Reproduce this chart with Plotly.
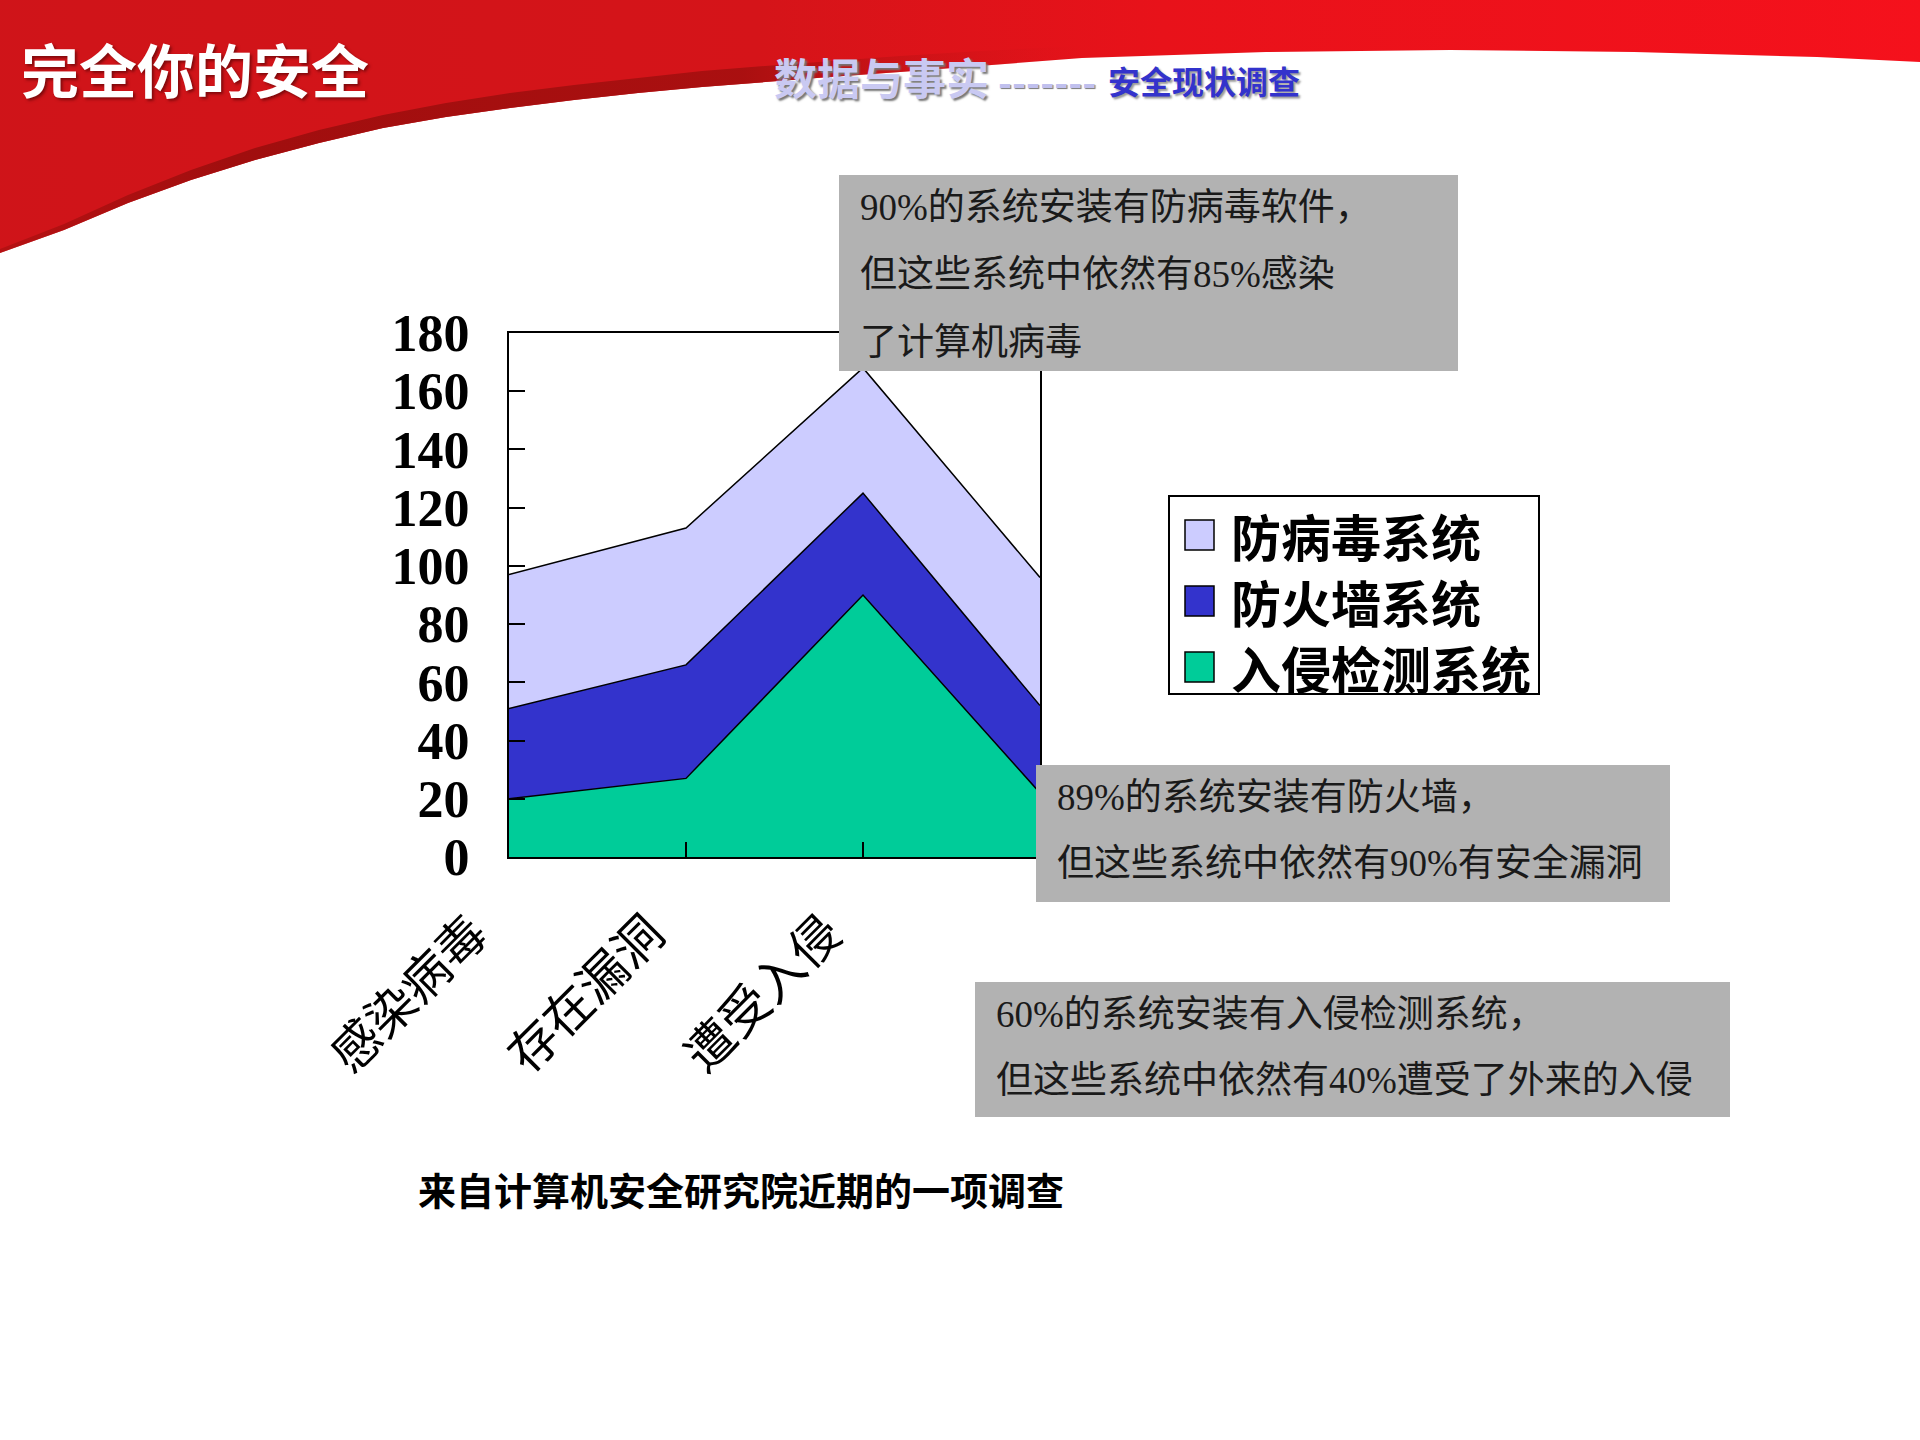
import plotly.graph_objects as go

# 图表数据
categories = ["感染病毒", "存在漏洞", "遭受入侵", ""]
x_pos = [0, 1, 2, 3]
ids_values = [20, 27, 90, 22]        # 入侵检测系统
firewall_values = [31, 39, 35, 30]   # 防火墙系统
antivirus_values = [46, 47, 43, 44]  # 防病毒系统
y_ticks = [0, 20, 40, 60, 80, 100, 120, 140, 160, 180]

series_names = ["入侵检测系统", "防火墙系统", "防病毒系统"]
series_colors = ["#00cc99", "#3333cc", "#ccccff"]

# 说明文字
note_antivirus = ["90%的系统安装有防病毒软件，", "但这些系统中依然有85%感染", "了计算机病毒"]
note_firewall = ["89%的系统安装有防火墙，", "但这些系统中依然有90%有安全漏洞"]
note_ids = ["60%的系统安装有入侵检测系统，", "但这些系统中依然有40%遭受了外来的入侵"]
footer_text = "来自计算机安全研究院近期的一项调查"
title_text = "完全你的安全"
subtitle_a = "数据与事实"
subtitle_b = "安全现状调查"

W, H = 1920, 1440
CJK = "Noto Sans CJK SC"
SERIF_CJK = "Liberation Serif, Noto Sans CJK SC"


def px(x):
    return x / W


def py(y):
    return 1 - y / H


fig = go.Figure()

# 顶部红色弧形装饰（像素坐标，用隐藏坐标轴绘制）
edge = [(1970, 64), (1920, 62), (1817, 57), (1634, 52), (1450, 50), (1266, 52),
        (1082, 58), (980, 66), (900, 72), (830, 77), (765, 82), (702, 87),
        (638, 93), (574, 100), (510, 108), (446, 117), (383, 128), (319, 143),
        (255, 160), (191, 180), (128, 203), (64, 230), (0, 253), (-50, 275)]
red_x = [-50, 1970] + [p[0] for p in edge]
red_y = [-50, -50] + [p[1] for p in edge]
fig.add_trace(go.Scatter(
    x=red_x, y=red_y, mode="lines", fill="toself", line=dict(width=0),
    fillgradient=dict(type="horizontal",
                      colorscale=[[0, "#cf1419"], [0.4, "#d51419"],
                                  [0.6, "#e8121a"], [1, "#f6111c"]]),
    xaxis="x2", yaxis="y2", showlegend=False, hoverinfo="skip"))

band_top = [(-50, 270), (0, 249), (64, 224), (128, 195), (191, 170), (255, 148),
            (319, 130), (383, 115), (446, 103), (510, 93), (574, 85), (638, 78),
            (702, 71), (765, 66), (830, 61), (900, 56), (980, 51), (1082, 46)]
band_bottom = [(1082, 58), (980, 66), (900, 72), (830, 77), (765, 82), (702, 87),
               (638, 93), (574, 100), (510, 108), (446, 117), (383, 128), (319, 143),
               (255, 160), (191, 180), (128, 203), (64, 230), (0, 253), (-50, 275)]
fig.add_trace(go.Scatter(
    x=[p[0] for p in band_top + band_bottom], y=[p[1] for p in band_top + band_bottom],
    mode="lines", fill="toself", line=dict(width=0),
    fillgradient=dict(type="horizontal",
                      colorscale=[[0, "rgba(170,16,16,0.6)"], [0.25, "rgba(160,14,14,1)"],
                                  [0.7, "rgba(165,15,15,0.9)"], [1, "rgba(210,20,25,0)"]]),
    xaxis="x2", yaxis="y2", showlegend=False, hoverinfo="skip"))

# 堆积面积图
for name, vals, color in zip(series_names, [ids_values, firewall_values, antivirus_values], series_colors):
    fig.add_trace(go.Scatter(
        x=x_pos, y=vals, name=name, stackgroup="one", mode="lines",
        line=dict(color="black", width=1.5), fillcolor=color, showlegend=False,
        xaxis="x", yaxis="y"))

shapes = []
annotations = []

# 灰色说明框
boxes = [
    ((839, 175, 1458, 371), note_antivirus, [208, 274, 342], 858),
    ((1036, 765, 1670, 902), note_firewall, [797, 863], 1055),
    ((975, 982, 1730, 1117), note_ids, [1014, 1080], 994),
]
for (x0, y0, x1, y1), lines, ys, tx in boxes:
    shapes.append(dict(type="rect", xref="paper", yref="paper", layer="above",
                       x0=px(x0), x1=px(x1), y0=py(y1), y1=py(y0),
                       fillcolor="#b2b2b2", line=dict(width=0)))
    for txt, ty in zip(lines, ys):
        annotations.append(dict(text=txt, x=px(tx), y=py(ty), xref="paper", yref="paper",
                                xanchor="left", yanchor="middle", showarrow=False,
                                font=dict(family=SERIF_CJK, size=37, color="#1a1a1a")))

# 图例（手绘，方块比 plotly 默认图例更大）
shapes.append(dict(type="rect", xref="paper", yref="paper", layer="above",
                   x0=px(1169), x1=px(1539), y0=py(694), y1=py(496),
                   fillcolor="white", line=dict(color="black", width=2)))
legend_rows = [535, 601, 667]
for name, color, ly in zip(series_names[::-1], series_colors[::-1], legend_rows):
    shapes.append(dict(type="rect", xref="paper", yref="paper", layer="above",
                       x0=px(1185), x1=px(1214), y0=py(ly + 15), y1=py(ly - 15),
                       fillcolor=color, line=dict(color="black", width=1.5)))
    annotations.append(dict(text=name, x=px(1229), y=py(ly), xref="paper", yref="paper",
                            xanchor="left", yanchor="middle", showarrow=False,
                            font=dict(family=CJK, size=50, color="black", weight="bold")))

# 标题与副标题
annotations += [
    dict(text=title_text, x=px(19), y=py(68), xref="paper", yref="paper",
         xanchor="left", yanchor="middle", showarrow=False,
         font=dict(family=CJK, size=58, color="white", weight="bold",
                   shadow="2px 2px 3px rgba(60,0,0,0.55)")),
    dict(text=subtitle_a, x=px(772), y=py(76), xref="paper", yref="paper",
         xanchor="left", yanchor="middle", showarrow=False,
         font=dict(family=CJK, size=43, color="#c9c9f2", weight="bold",
                   shadow="2px 2px 2px #777")),
    dict(text="-------", x=px(996), y=py(80), xref="paper", yref="paper",
         xanchor="left", yanchor="middle", showarrow=False,
         font=dict(family=CJK, size=38, color="#c0c0ee", weight="bold",
                   shadow="1px 1px 1px #777")),
    dict(text=subtitle_b, x=px(1106), y=py(80), xref="paper", yref="paper",
         xanchor="left", yanchor="middle", showarrow=False,
         font=dict(family=CJK, size=32, color="#3333cc", weight="bold",
                   shadow="2px 2px 2px #999")),
    dict(text=footer_text, x=px(416), y=py(1188), xref="paper", yref="paper",
         xanchor="left", yanchor="middle", showarrow=False,
         font=dict(family=CJK, size=38, color="black", weight="bold")),
]

fig.update_layout(
    width=W, height=H,
    margin=dict(l=0, r=0, t=0, b=0, autoexpand=False),
    paper_bgcolor="white",
    plot_bgcolor="rgba(0,0,0,0)",
    showlegend=False,
    shapes=shapes,
    annotations=annotations,
    xaxis=dict(domain=[px(509), px(1040)], anchor="y", range=[0, 3], automargin=False,
               tickvals=x_pos, ticktext=categories, tickangle=-45,
               ticks="inside", ticklen=15, tickwidth=2, tickcolor="black",
               showline=True, linecolor="black", linewidth=2, mirror=True,
               showgrid=False, zeroline=False, ticklabelshift=-36,
               ticklabelstandoff=26,
               tickfont=dict(family=CJK, size=49, color="black")),
    yaxis=dict(domain=[py(857), py(333)], anchor="x", range=[0, 180], automargin=False,
               tickvals=y_ticks, ticks="inside", ticklen=16, tickwidth=2,
               tickcolor="black", showline=True, linecolor="black", linewidth=2,
               mirror=True, showgrid=False, zeroline=False, ticklabelstandoff=27,
               tickfont=dict(family="Liberation Serif", size=52, color="black",
                             weight="bold")),
    xaxis2=dict(domain=[0, 1], anchor="y2", range=[0, W], visible=False,
                fixedrange=True, automargin=False),
    yaxis2=dict(domain=[0, 1], anchor="x2", range=[H, 0], visible=False,
                fixedrange=True, automargin=False),
)

fig.write_html("out.html", config={"displayModeBar": False},
               post_script="document.body.style.margin = '0';")
